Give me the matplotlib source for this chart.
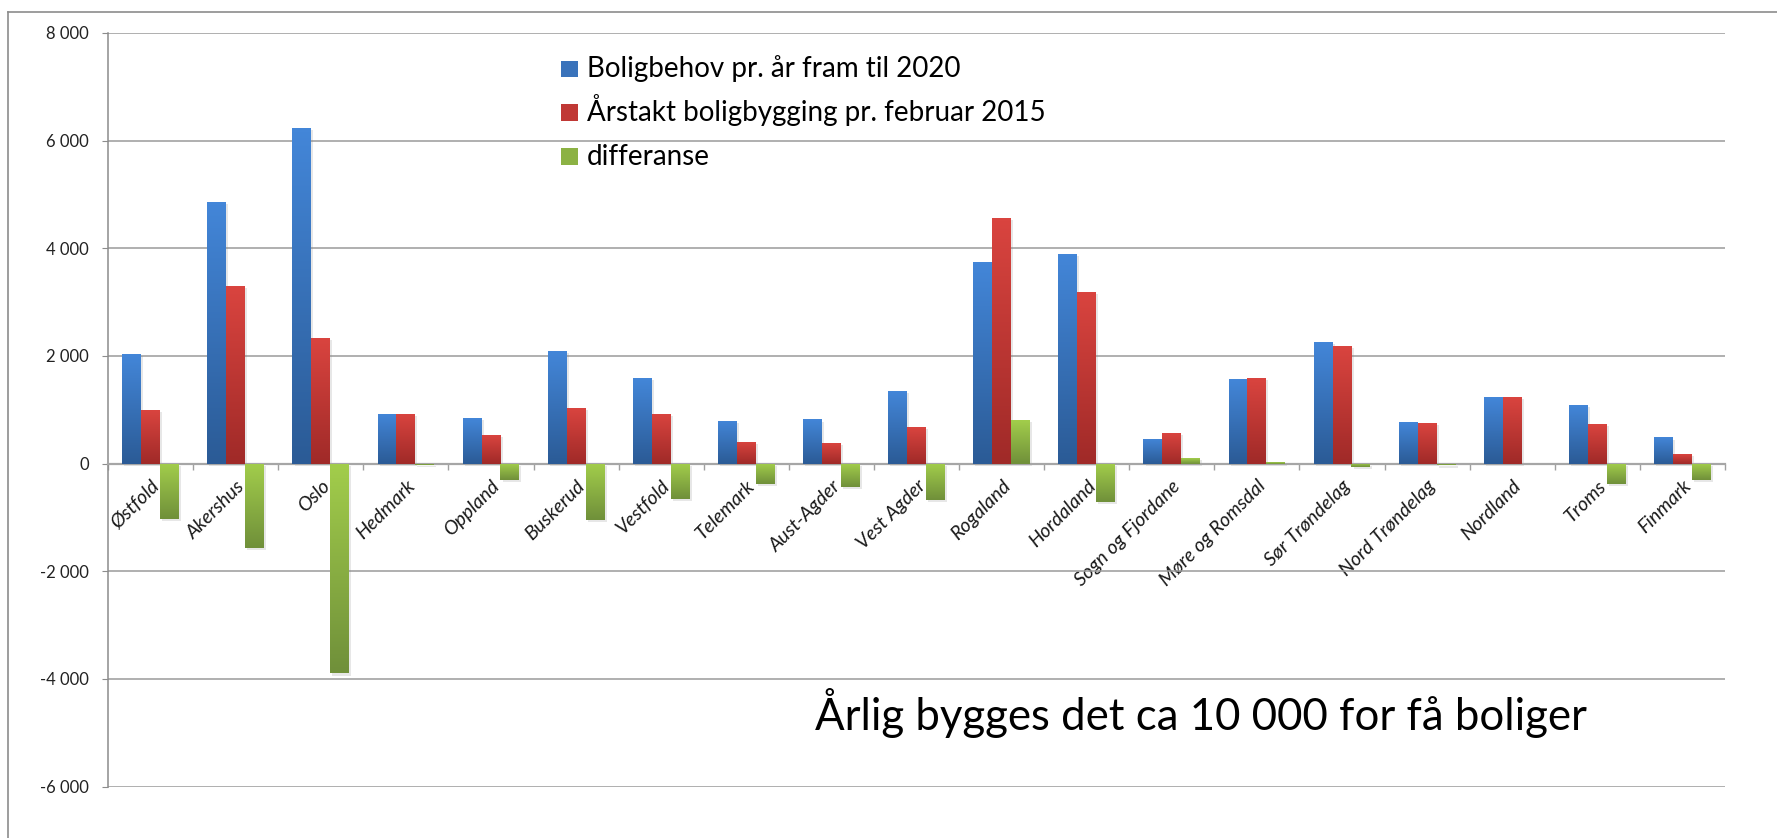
import numpy as np
import matplotlib
matplotlib.use("Agg")
import matplotlib.pyplot as plt
import matplotlib.patheffects as pe
from matplotlib.colors import LinearSegmentedColormap
from matplotlib.patches import Rectangle
from matplotlib.lines import Line2D
from matplotlib.ticker import FuncFormatter

plt.rcParams['font.family'] = ['Lato', 'DejaVu Sans']

# fylker og verdier (lest av bildet)
fylker = ["Østfold", "Akershus", "Oslo", "Hedmark", "Oppland", "Buskerud", "Vestfold",
          "Telemark", "Aust-Agder", "Vest Agder", "Rogaland", "Hordaland",
          "Sogn og Fjordane", "Møre og Romsdal", "Sør Trøndelag", "Nord Trøndelag",
          "Nordland", "Troms", "Finmark"]
boligbehov = [2040, 4860, 6240, 930, 840, 2090, 1585, 800, 820, 1355,
              3750, 3900, 465, 1570, 2260, 780, 1235, 1095, 485]
arstakt = [1000, 3300, 2340, 930, 530, 1030, 930, 410, 380, 680,
           4570, 3195, 575, 1590, 2190, 750, 1235, 730, 180]
differanse = [-1035, -1570, -3900, -20, -310, -1045, -665, -380, -440, -680,
              815, -710, 110, 20, -60, -35, -5, -375, -310]

serier = ["Boligbehov pr. år fram til 2020",
          "Årstakt boligbygging pr. februar 2015",
          "differanse"]
# (topp, bunn) for gradient
farger = [("#4386d8", "#2b5b96"), ("#d9443f", "#a02a28"), ("#a2cd4b", "#70903a")]
midt = ["#3a73bb", "#c03835", "#8cb244"]

tekst = "Årlig bygges det ca 10 000 for få boliger"

W, H = 1777, 838
fig = plt.figure(figsize=(W/100, H/100), dpi=100)
ax = fig.add_axes([108/W, 1-786.5/H, (1725-108)/W, (786.5-33)/H])

n = len(fylker)
x = np.arange(n) + 0.5
w = 0.222


def gradient_fill(rect, top, bottom, target):
    x0, y0 = rect.get_x(), rect.get_y()
    bw, bh = rect.get_width(), rect.get_height()
    lo, hi = min(y0, y0 + bh), max(y0, y0 + bh)
    if hi - lo < 1e-9:
        return
    cmap = LinearSegmentedColormap.from_list("g", [bottom, top])
    grad = np.linspace(0, 1, 64).reshape(-1, 1)
    im = target.imshow(grad, extent=[x0, x0 + bw, lo, hi], origin='lower',
                       aspect='auto', cmap=cmap, zorder=3, interpolation='bilinear')
    im.set_clip_path(rect)


for i, vals in enumerate([boligbehov, arstakt, differanse]):
    bars = ax.bar(x + (i - 1) * w, vals, width=w, color=midt[i], linewidth=0, zorder=2)
    for b in bars:
        b.set_path_effects([pe.SimplePatchShadow(offset=(1.5, -1.5), shadow_rgbFace='#888888', alpha=0.2),
                            pe.Normal()])
        gradient_fill(b, farger[i][0], farger[i][1], ax)

ax.set_aspect('auto')
ax.set_xlim(0, n)
ax.set_ylim(-6000, 8000)

# spines først (set_position nullstiller tick-oppsettet)
for s in ['top', 'right']:
    ax.spines[s].set_visible(False)
ax.spines['bottom'].set_position(('data', 0))
ax.spines['bottom'].set_color('#a6a6a6')
ax.spines['bottom'].set_linewidth(1.6)
ax.spines['bottom'].set_zorder(2.5)
ax.spines['left'].set_color('#8c8c8c')
ax.spines['left'].set_linewidth(1.1)

ax.set_yticks(range(-6000, 8001, 2000))
ax.yaxis.set_major_formatter(FuncFormatter(lambda v, p: f"{int(v):,}".replace(",", " ")))
ax.tick_params(axis='y', length=4.5, color='#8c8c8c', labelsize=12, pad=9, labelcolor='#222222')
ax.yaxis.grid(True, color='#9a9a9a', linewidth=1.1)
ax.set_axisbelow(True)

ax.tick_params(axis='x', which='major', length=0, pad=10)
ax.tick_params(axis='x', which='minor', length=4.5, color='#a0a0a0', width=1)
ax.set_xticks(x)
ax.set_xticks(np.arange(n + 1), minor=True)
ax.set_xticklabels(fylker, fontstyle='italic', fontsize=14, color='#1a1a1a',
                   rotation=45, ha='right', va='top', rotation_mode='anchor')

# forklaring (tegnet i pikselkoordinater)
for i, navn in enumerate(serier):
    base = 77.3 + 43.7 * i
    sq = Rectangle((561/W, 1-base/H), 16.5/W, 16.5/H, transform=fig.transFigure,
                   facecolor=midt[i], edgecolor='none')
    fig.add_artist(sq)
    fig.text(587/W, 1-base/H, navn, fontsize=20, ha='left', va='baseline', color='black')

fig.text(815/W, 1-730/H, tekst, fontsize=31.5, ha='left', va='baseline', color='black')

# ramme rundt diagramområdet
fy = 1 - 12/H
fx = 8/W
fig.add_artist(Line2D([fx, 1], [fy, fy], transform=fig.transFigure, color='#8c8c8c', lw=1.2))
fig.add_artist(Line2D([fx, fx], [0, fy], transform=fig.transFigure, color='#8c8c8c', lw=1.2))

fig.savefig("out.png", dpi=100)
